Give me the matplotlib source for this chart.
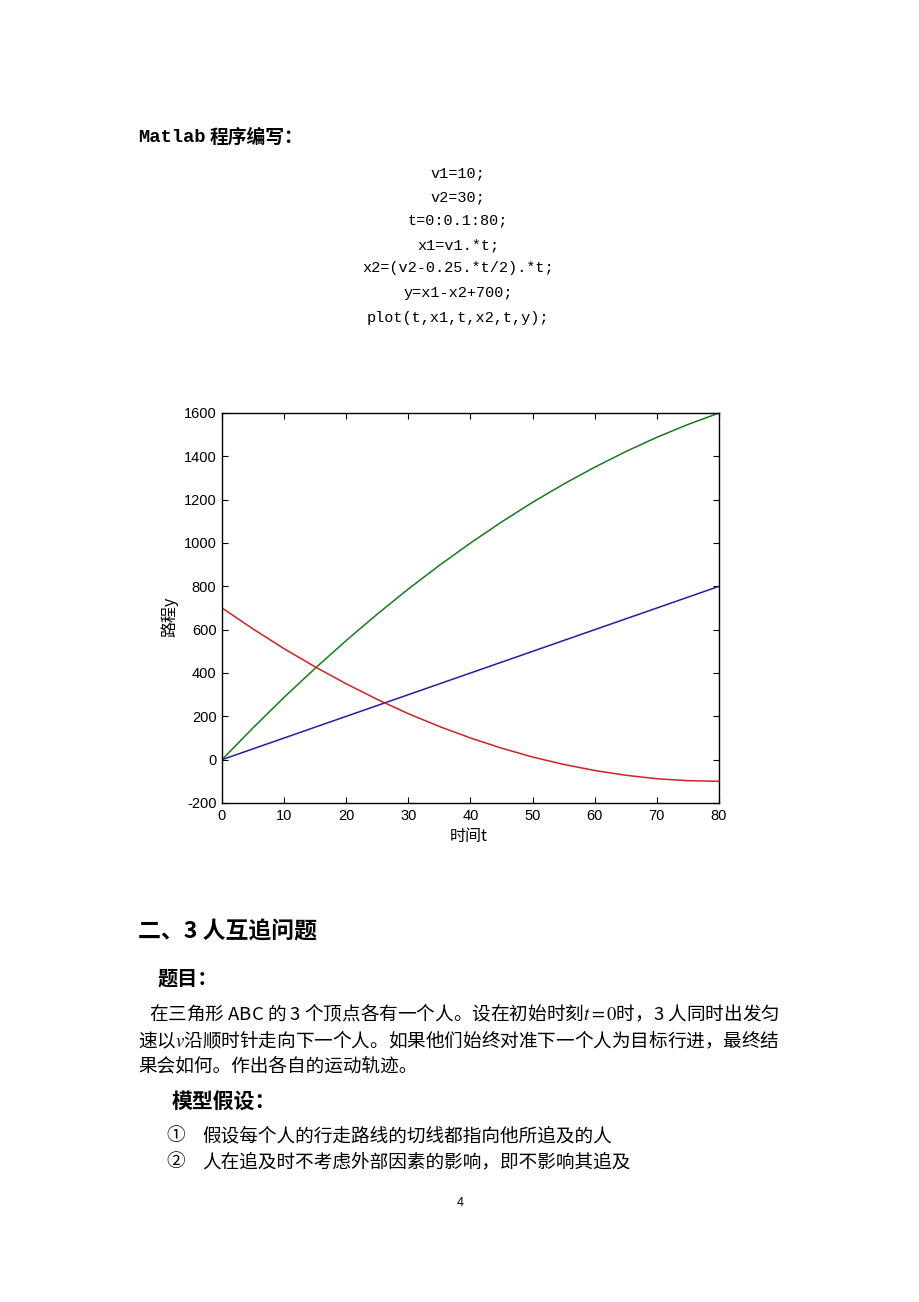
import matplotlib
matplotlib.use("Agg")
import matplotlib.pyplot as plt

plt.rcParams['font.family'] = ['Noto Sans CJK SC', 'DejaVu Sans']
plt.rcParams['mathtext.fontset'] = 'stix'
plt.rcParams['axes.unicode_minus'] = False

# ---- data ----
t = [0, 5, 10, 15, 20, 25, 30, 35, 40, 45, 50, 55, 60, 65, 70, 75, 80]
x1 = [0, 50, 100, 150, 200, 250, 300, 350, 400, 450, 500, 550, 600, 650, 700, 750, 800]
x2 = [0, 147, 288, 422, 550, 672, 788, 897, 1000, 1097, 1188, 1272, 1350, 1422, 1488, 1547, 1600]
y = [700, 603, 512, 428, 350, 278, 212, 153, 100, 53, 12, -22, -50, -72, -88, -97, -100]

xticks = [0, 10, 20, 30, 40, 50, 60, 70, 80]
yticks = [-200, 0, 200, 400, 600, 800, 1000, 1200, 1400, 1600]

code_lines = [
    "v1=10;",
    "v2=30;",
    "t=0:0.1:80;",
    "x1=v1.*t;",
    "x2=(v2-0.25.*t/2).*t;",
    "y=x1-x2+700;",
    "plot(t,x1,t,x2,t,y);",
]

W, H = 920, 1302
fig = plt.figure(figsize=(W / 100, H / 100), dpi=100)


def P(x, yy):
    return (x / W, 1 - yy / H)


# ---- axes ----
L, R, T, B = 222, 719, 413, 803
ax = fig.add_axes([L / W, 1 - B / H, (R - L) / W, (B - T) / H])
ax.plot(t, x1, color='#1f1fa8', lw=1.1)
ax.plot(t, x2, color='#1a7a1a', lw=1.1)
ax.plot(t, y, color='#d42020', lw=1.1)
ax.set_xlim(0, 80)
ax.set_ylim(-200, 1600)
ax.set_xticks(xticks)
ax.set_yticks(yticks)
ax.tick_params(direction='in', length=4, width=0.8, top=True, right=True,
               labelsize=10.5, pad=4)
for lab in ax.get_xticklabels() + ax.get_yticklabels():
    lab.set_fontfamily(['Liberation Sans', 'DejaVu Sans'])
for s in ax.spines.values():
    s.set_linewidth(1.0)
fig.text(*P(170, 617), "路程y", rotation=90, ha='center', va='center', fontsize=11.5)
fig.text(*P(469, 836), "时间t", ha='center', va='center', fontsize=11.5)

# ---- page text ----
fig.text(*P(138, 137), "Matlab", ha='left', va='center', fontsize=13.5,
         fontweight='bold', family=['Liberation Mono', 'DejaVu Sans Mono'])
fig.text(*P(210, 137), "程序编写：", ha='left', va='center', fontsize=13.5, fontweight='bold')

code_y = [173, 197, 220, 245, 268, 293, 318]
for line, yy in zip(code_lines, code_y):
    fig.text(*P(458, yy), line, ha='center', va='center', fontsize=11,
             family=['Liberation Mono', 'DejaVu Sans Mono'])

fig.text(*P(138, 932), "二、3 人互追问题", ha='left', va='center', fontsize=16.5, fontweight='bold')
fig.text(*P(158, 978), "题目：", ha='left', va='center', fontsize=14.5, fontweight='bold')
fig.text(*P(149, 1013), "在三角形 ABC 的 3 个顶点各有一个人。设在初始时刻$t=0$时，3 人同时出发匀",
         ha='left', va='center', fontsize=13.4)
fig.text(*P(138, 1040), "速以$v$沿顺时针走向下一个人。如果他们始终对准下一个人为目标行进，最终结",
         ha='left', va='center', fontsize=13.4)
fig.text(*P(138, 1067), "果会如何。作出各自的运动轨迹。", ha='left', va='center', fontsize=13.4)
fig.text(*P(172, 1101), "模型假设：", ha='left', va='center', fontsize=15, fontweight='bold')
fig.text(*P(166, 1136), "①", ha='left', va='center', fontsize=13.4)
fig.text(*P(202, 1136), "假设每个人的行走路线的切线都指向他所追及的人", ha='left', va='center', fontsize=13.4)
fig.text(*P(166, 1162), "②", ha='left', va='center', fontsize=13.4)
fig.text(*P(202, 1162), "人在追及时不考虑外部因素的影响，即不影响其追及", ha='left', va='center', fontsize=13.4)
fig.text(*P(460, 1203), "4", ha='center', va='center', fontsize=9,
         family=['Liberation Sans', 'DejaVu Sans'])

fig.savefig("out.png", dpi=100)
